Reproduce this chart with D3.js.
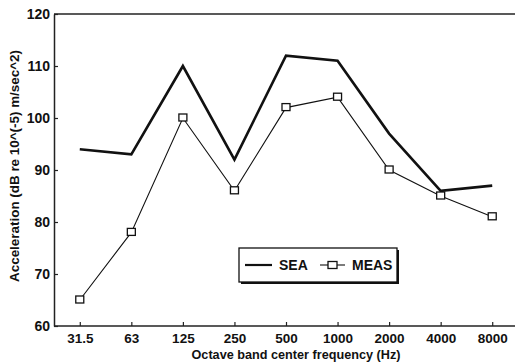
<!DOCTYPE html>
<html>
<head>
<meta charset="utf-8">
<script src="https://cdn.jsdelivr.net/npm/d3@7"></script>
<style>
  body { margin: 0; background: #fff; }
  svg { display: block; font-family: "Liberation Sans", Arial, sans-serif; }
</style>
</head>
<body>
<div id="chart"></div>
<script>
// --- data
const bands = ['31.5', '63', '125', '250', '500', '1000', '2000', '4000', '8000'];
const seaValues = [94, 93, 110, 92, 112, 111, 97, 86, 87];
const measValues = [65, 78, 100, 86, 102, 104, 90, 85, 81];
const yTicks = [60, 70, 80, 90, 100, 110, 120];

const width = 515;
const height = 363;
const margin = { top: 14, right: -3, bottom: 37, left: 54 };

const svg = d3.select('#chart')
    .append('svg')
    .attr('width', width)
    .attr('height', height);

const x = d3.scalePoint()
    .domain(bands)
    .range([margin.left, width - margin.right])
    .padding(0.5);

const y = d3.scaleLinear()
    .domain([60, 120])
    .range([height - margin.bottom, margin.top]);

// --- top frame line
svg.append('line')
    .attr('x1', margin.left).attr('x2', width)
    .attr('y1', y(120)).attr('y2', y(120))
    .attr('stroke', '#222').attr('stroke-width', 1.5);

// --- axes, ticks pointing inward
const gx = svg.append('g')
    .attr('transform', `translate(0,${y(60)})`)
    .call(d3.axisBottom(x).tickSizeInner(-4).tickSizeOuter(0).tickPadding(7));
gx.select('.domain').attr('d', `M${margin.left},0H${width}`);

const gy = svg.append('g')
    .attr('transform', `translate(${margin.left},0)`)
    .call(d3.axisLeft(y).tickValues(yTicks).tickSizeInner(-4).tickSizeOuter(0).tickPadding(4));

[gx, gy].forEach(g => {
    g.selectAll('.domain').attr('stroke', '#222').attr('stroke-width', 1.5);
    g.selectAll('.tick line').attr('stroke', '#222').attr('stroke-width', 1.2);
    g.selectAll('.tick text')
        .attr('fill', '#111')
        .attr('font-size', 14)
        .attr('font-weight', 'bold')
        .attr('font-family', '"Liberation Sans", Arial, sans-serif');
});
gx.selectAll('.tick text').attr('font-size', 13.5);

// --- axis titles
svg.append('text')
    .attr('x', 296)
    .attr('y', 359)
    .attr('text-anchor', 'middle')
    .attr('font-size', 13)
    .attr('font-weight', 'bold')
    .attr('fill', '#111')
    .attr('textLength', 209)
    .attr('lengthAdjust', 'spacingAndGlyphs')
    .text('Octave band center frequency (Hz)');

svg.append('text')
    .attr('transform', 'translate(19,166) rotate(-90)')
    .attr('text-anchor', 'middle')
    .attr('font-size', 13)
    .attr('font-weight', 'bold')
    .attr('fill', '#111')
    .attr('textLength', 232)
    .attr('lengthAdjust', 'spacingAndGlyphs')
    .text('Acceleration (dB re 10^(-5) m/sec^2)');

// --- series
const line = d3.line()
    .x((d, i) => x(bands[i]))
    .y(d => y(d));

svg.append('path')
    .datum(seaValues)
    .attr('fill', 'none')
    .attr('stroke', '#111')
    .attr('stroke-width', 2.6)
    .attr('d', line);

svg.append('path')
    .datum(measValues)
    .attr('fill', 'none')
    .attr('stroke', '#111')
    .attr('stroke-width', 1.1)
    .attr('d', line);

svg.append('g')
    .selectAll('rect')
    .data(measValues)
    .join('rect')
    .attr('x', (d, i) => x(bands[i]) - 4)
    .attr('y', d => y(d) - 4)
    .attr('width', 8)
    .attr('height', 7)
    .attr('fill', '#fff')
    .attr('stroke', '#111')
    .attr('stroke-width', 1.3);

// --- legend with shadow
const lg = svg.append('g').attr('transform', 'translate(239,248)');
lg.append('rect')
    .attr('x', 2).attr('y', 2).attr('width', 158).attr('height', 34)
    .attr('fill', '#111');
lg.append('rect')
    .attr('x', 0).attr('y', 0).attr('width', 158).attr('height', 34)
    .attr('fill', '#fff').attr('stroke', '#111').attr('stroke-width', 1.3);

lg.append('line')
    .attr('x1', 6).attr('x2', 33).attr('y1', 17).attr('y2', 17)
    .attr('stroke', '#111').attr('stroke-width', 2.2);
lg.append('text')
    .attr('x', 40).attr('y', 22)
    .attr('font-size', 14).attr('font-weight', 'bold').attr('fill', '#111')
    .text('SEA');

lg.append('line')
    .attr('x1', 81).attr('x2', 106).attr('y1', 17).attr('y2', 17)
    .attr('stroke', '#111').attr('stroke-width', 1.1);
lg.append('rect')
    .attr('x', 89).attr('y', 13.5).attr('width', 9).attr('height', 7)
    .attr('fill', '#fff').attr('stroke', '#111').attr('stroke-width', 1.3);
lg.append('text')
    .attr('x', 113).attr('y', 22)
    .attr('font-size', 14).attr('font-weight', 'bold').attr('fill', '#111')
    .text('MEAS');
</script>
</body>
</html>
